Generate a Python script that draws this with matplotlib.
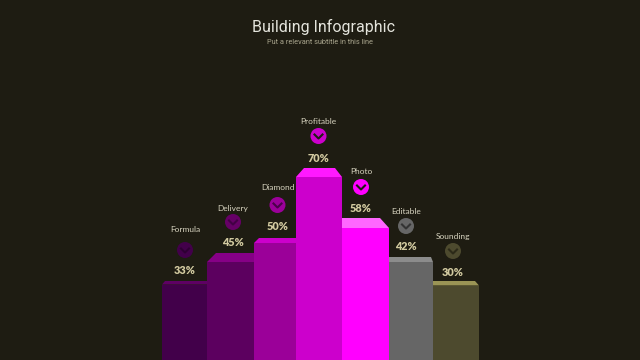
import matplotlib
matplotlib.use('Agg')
import matplotlib.pyplot as plt
from matplotlib.patches import Circle

# Data
names = ['Formula', 'Delivery', 'Diamond', 'Profitable', 'Photo', 'Editable', 'Sounding']
percents = [33, 45, 50, 70, 58, 42, 30]
# drawn bar heights do not follow the percents in the original, so they are kept apart
bar_heights = [75.5, 98, 117, 183, 132, 98, 74.5]
bar_edges = [162, 207, 254, 296, 342, 389, 433, 479]

# Shape of the top faces
top_rise = [3.5, 9, 5, 9, 10, 5, 4.5]
top_left = [3, 9, 5, 8, 0, 0, 0]
top_right = [0, 0, 0, 7, 9, 2, 4]

# Label stack placement, relative to the top face
label_dx = [-1, -2, 0, -1, 0, -4, -1]
pct_gap = [11, 10, 11, 10, 10, 10, 9]
circle_gap = [20, 21, 22, 22, 21, 21, 21]
name_gap = [41, 35, 39, 37, 36, 36, 36]

front_colors = ['#42004a', '#5c005f', '#9b0099', '#cc00cc', '#ff00ff', '#666666', '#4d4a2e']
top_colors = ['#5e0063', '#860086', '#cc00cc', '#ff19ff', '#ff66ff', '#8c8c8c', '#9a9455']
circle_colors = ['#42004a', '#660066', '#9b0099', '#cc00cc', '#ff00ff', '#666666', '#4d4a2e']
chevron_colors = ['#2e0033', '#420044', '#4a004a', '#1e1c12', '#1e1c12', '#333333', '#2c2a18']
bg = '#1e1c12'

fig = plt.figure(figsize=(6.4, 3.6), dpi=100, facecolor=bg)
ax = fig.add_axes([0, 0, 1, 1])
ax.set_xlim(0, 640)
ax.set_ylim(0, 360)
ax.axis('off')

for i, name in enumerate(names):
    left = bar_edges[i]
    right = bar_edges[i + 1]
    h = bar_heights[i]
    ax.bar(left, h, width=right - left, align='edge', color=front_colors[i], linewidth=0)

    # top face of the block
    back_l = left + top_left[i]
    back_r = right - top_right[i]
    back_y = h + top_rise[i]
    ax.fill([left, back_l, back_r, right], [h, back_y, back_y, h], color=top_colors[i], linewidth=0)

    # label stack sits above the centre of the top face
    cx = (back_l + back_r) / 2 + label_dx[i]
    pct_y = back_y + pct_gap[i]
    ax.text(cx, pct_y, f'{percents[i]}%', ha='center', va='center', color='#d2caa0',
            fontsize=7.8, fontweight='heavy', family='Lato')
    cy = pct_y + circle_gap[i]
    ax.add_patch(Circle((cx, cy), 8, facecolor=circle_colors[i], edgecolor='none'))
    ax.plot([cx - 4, cx, cx + 4], [cy + 1.5, cy - 2.5, cy + 1.5], color=chevron_colors[i], lw=1.5)
    ax.text(cx, pct_y + name_gap[i], name, ha='center', va='center', color='#d8d4c0',
            fontsize=6, family='Lato')

ax.text(324, 333, 'Building Infographic', ha='center', va='center', color='#e4e4dc',
        fontsize=11.5, family='Roboto')
ax.text(320, 318, 'Put a relevant subtitle in this line', ha='center', va='center', color='#a8a48c',
        fontsize=5.3, family='Roboto')

fig.savefig('out.png', dpi=100, facecolor=bg)
